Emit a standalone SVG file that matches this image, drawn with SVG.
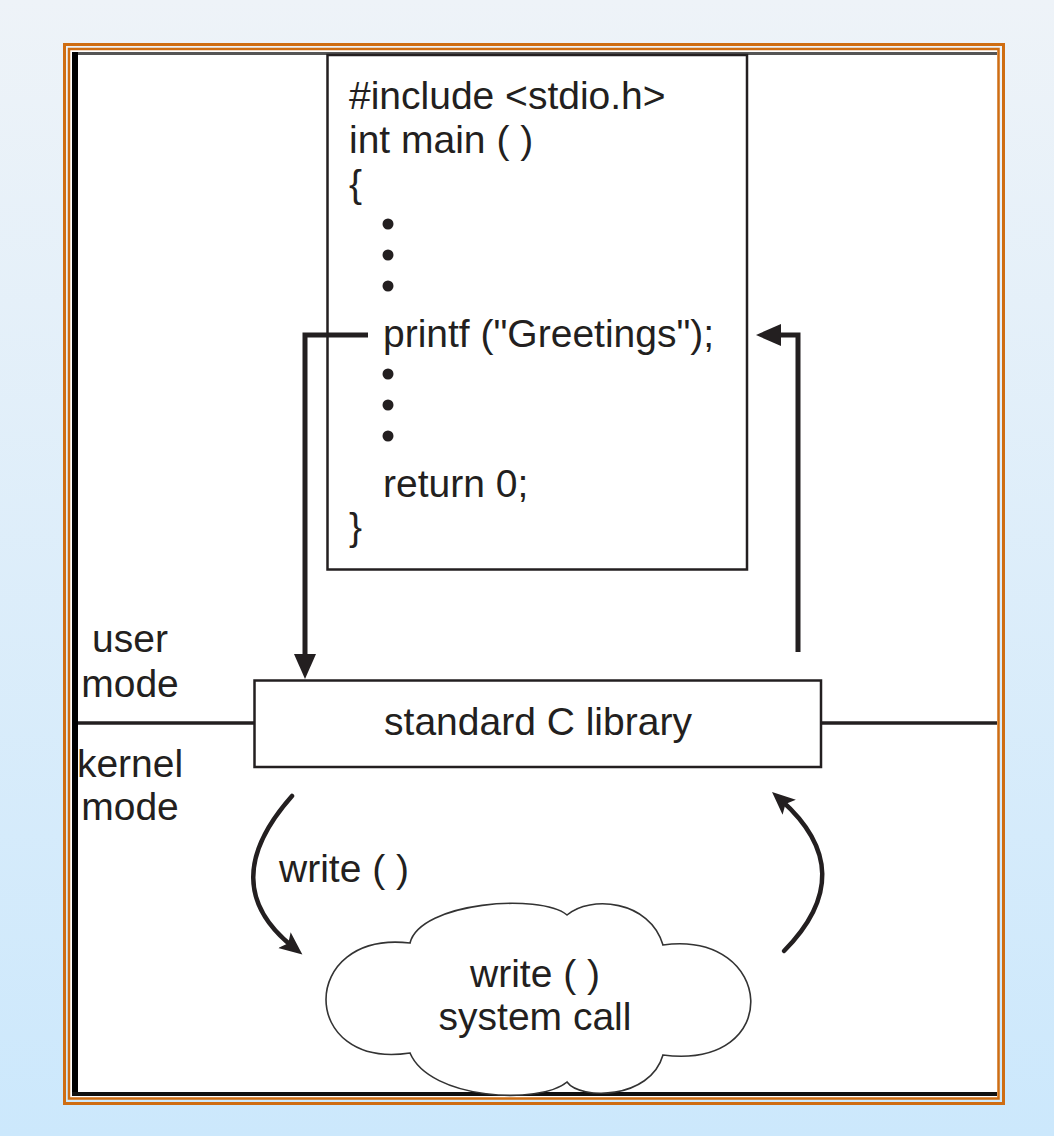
<svg xmlns="http://www.w3.org/2000/svg" width="1054" height="1136" viewBox="0 0 1054 1136">
  <defs>
    <linearGradient id="bg" x1="0" y1="0" x2="0" y2="1">
      <stop offset="0" stop-color="#eef3f8"/>
      <stop offset="1" stop-color="#cce8fc"/>
    </linearGradient>
    <marker id="ahBig" markerUnits="userSpaceOnUse" markerWidth="26" markerHeight="24" refX="12" refY="11" orient="auto" viewBox="0 0 26 24">
      <path d="M0,0 L25,11 L0,22 Z" fill="#231f20"/>
    </marker>
    <marker id="ahCurve" markerUnits="userSpaceOnUse" markerWidth="24" markerHeight="22" refX="11" refY="10" orient="auto" viewBox="0 0 24 22">
      <path d="M0,0 L23,10 L0,20 L5,10 Z" fill="#231f20"/>
    </marker>
    <style>
      .t { font-family: "Liberation Sans", Arial, sans-serif; font-size: 39px; fill: #231f20; }
      .mid { text-anchor: middle; }
      .box { fill: #ffffff; stroke: #231f20; stroke-width: 2.5; }
      .conn { fill: none; stroke: #231f20; stroke-width: 5; stroke-linejoin: miter; }
      .curve { fill: none; stroke: #231f20; stroke-width: 4.5; stroke-linecap: round; }
      .dot { fill: #231f20; }
    </style>
  </defs>

  <!-- background and frame -->
  <rect x="0" y="0" width="1054" height="1136" fill="url(#bg)"/>
  <g id="frame">
    <rect x="64.5" y="44.5" width="939" height="1059" fill="none" stroke="#cf6d12" stroke-width="3"/>
    <rect x="69" y="49" width="929.5" height="1049.5" fill="#ffffff" stroke="#cf6d12" stroke-width="2.5"/>
    <rect x="72" y="52" width="925" height="3" fill="#555555"/>
    <rect x="72" y="52" width="6" height="1044" fill="#000000"/>
    <rect x="72" y="1092" width="925" height="4" fill="#111111"/>
    <line x1="78" y1="723" x2="254" y2="723" stroke="#231f20" stroke-width="3.5"/>
    <line x1="821" y1="723" x2="997" y2="723" stroke="#231f20" stroke-width="3.5"/>
  </g>

  <g id="mode-labels">
    <text class="t mid" x="130" y="652">user</text>
    <text class="t mid" x="130" y="697">mode</text>
    <text class="t mid" x="130" y="777">kernel</text>
    <text class="t mid" x="130" y="820">mode</text>
  </g>

  <g id="program">
    <rect class="box" x="327.5" y="55" width="419.5" height="514.5"/>
    <text class="t" x="349" y="109">#include &lt;stdio.h&gt;</text>
    <text class="t" x="349" y="153">int main ( )</text>
    <text class="t" x="349" y="197">{</text>
    <circle class="dot" cx="388" cy="224" r="5.5"/>
    <circle class="dot" cx="388" cy="255" r="5.5"/>
    <circle class="dot" cx="388" cy="286" r="5.5"/>
    <text class="t" x="383" y="347">printf ("Greetings");</text>
    <circle class="dot" cx="388" cy="374" r="5.5"/>
    <circle class="dot" cx="388" cy="405" r="5.5"/>
    <circle class="dot" cx="388" cy="436" r="5.5"/>
    <text class="t" x="383" y="497">return 0;</text>
    <text class="t" x="349" y="540">}</text>
  </g>

  <g id="stdlib">
    <rect class="box" x="254.5" y="680.5" width="566.5" height="86.5"/>
    <text class="t mid" x="538" y="735">standard C library</text>
  </g>

  <g id="syscall">
    <path d="M410,943 C420,902 540,893 567,915 C590,895 650,900 663,945 C775,930 785,1070 663,1055 C650,1100 580,1100 567,1082 C540,1105 430,1100 410,1053 C298,1070 298,930 410,943 Z" fill="#ffffff" stroke="#333333" stroke-width="1.6"/>
    <text class="t mid" x="535" y="987">write ( )</text>
    <text class="t mid" x="535" y="1030">system call</text>
  </g>

  <g id="connectors">
    <path class="conn" d="M368,335 H305 V666" marker-end="url(#ahBig)"/>
    <path class="conn" d="M798,652 V335 H769" marker-end="url(#ahBig)"/>
    <path class="curve" d="M292,796 Q214,884 293,947" marker-end="url(#ahCurve)"/>
    <path class="curve" d="M784,951 Q862,872 781,800" marker-end="url(#ahCurve)"/>
    <text class="t" x="279" y="882">write ( )</text>
  </g>
</svg>
